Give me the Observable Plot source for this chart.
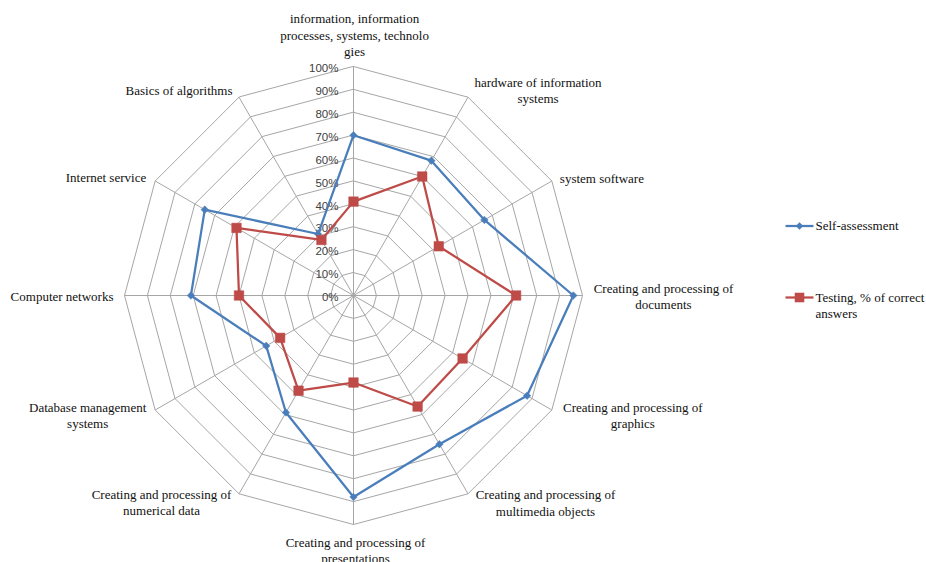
<!DOCTYPE html>
<html><head><meta charset="utf-8">
<script src="https://cdn.jsdelivr.net/npm/d3@7"></script>
<script src="https://cdn.jsdelivr.net/npm/@observablehq/plot@0.6"></script>
<style>
body{margin:0;background:#fff} #chart{width:926px;height:562px}
.lbl, .lbl text, .lbl tspan{font-family:"Liberation Serif","Times New Roman","DejaVu Serif",serif !important}
.tck, .tck text{font-family:"Liberation Sans",Arial,sans-serif !important}
</style>
</head><body><div id="chart"></div>
<script>
// ---- data ----
const categories = [
  "information, information processes, systems, technologies",
  "hardware of information systems",
  "system software",
  "Creating and processing of documents",
  "Creating and processing of graphics",
  "Creating and processing of multimedia objects",
  "Creating and processing of presentations",
  "Creating and processing of numerical data",
  "Database management systems",
  "Computer networks",
  "Internet service",
  "Basics of algorithms"
];
const categoryLabels = [
  "information, information\nprocesses, systems, technolo\ngies",
  "hardware of information\nsystems",
  "system software",
  "Creating and processing of\ndocuments",
  "Creating and processing of\ngraphics",
  "Creating and processing of\nmultimedia objects",
  "Creating and processing of\npresentations",
  "Creating and processing of\nnumerical data",
  "Database management\nsystems",
  "Computer networks",
  "Internet service",
  "Basics of algorithms"
];
const seriesNames = ["Self-assessment", "Testing, % of correct\nanswers"];
const selfAssessment = [0.70, 0.68, 0.66, 0.96, 0.875, 0.75, 0.88, 0.59, 0.44, 0.71, 0.75, 0.31];
const testing        = [0.41, 0.60, 0.43, 0.71, 0.55, 0.56, 0.38, 0.48, 0.37, 0.50, 0.59, 0.28];
const tickValues = [0, 0.1, 0.2, 0.3, 0.4, 0.5, 0.6, 0.7, 0.8, 0.9, 1.0];
const tickLabels = ["0%", "10%", "20%", "30%", "40%", "50%", "60%", "70%", "80%", "90%", "100%"];

// ---- layout / style ----
const W = 926, H = 562, CX = 353, CY = 295, R = 229;
const blue = "#4a7ebb", red = "#be4b48", grid = "#a6a6a6";
// label offsets (px) from the 100% spoke end, and anchor
const labelStyle = [
  {dx: 1, dy: -32, a: "middle"},
  {dx: 70, dy: -7.5, a: "middle"},
  {dx: 8, dy: -3.5, a: "start"},
  {dx: 81, dy: 0, a: "middle"},
  {dx: 81, dy: 5, a: "middle"},
  {dx: 77.5, dy: 8.5, a: "middle"},
  {dx: 2, dy: 25, a: "middle"},
  {dx: -77.5, dy: 8, a: "middle"},
  {dx: -67.5, dy: 5, a: "middle"},
  {dx: -11, dy: 0.5, a: "end"},
  {dx: -9, dy: -4, a: "end"},
  {dx: -6.5, dy: -7.5, a: "end"}
];

const n = categories.length;
const ang = i => i * 2 * Math.PI / n;
const px = (v, i) => v * Math.sin(ang(i));
const py = (v, i) => v * Math.cos(ang(i));
const X = p => (p - CX) / R;   // pixel -> data
const Y = p => (CY - p) / R;

const rings = [];
tickValues.filter(t => t > 0).forEach(t => categories.forEach((c, i) => rings.push({t, x: px(t, i), y: py(t, i)})));
const series = [];
[selfAssessment, testing].forEach((vals, s) => vals.forEach((v, i) => series.push({s, i, x: px(v, i), y: py(v, i)})));
const labels = categories.map((c, i) => ({
  text: categoryLabels[i], a: labelStyle[i].a,
  x: px(1, i) + labelStyle[i].dx / R,
  y: py(1, i) - labelStyle[i].dy / R
}));
const legend = [
  {s: 0, y: 225.5, text: seriesNames[0]},
  {s: 1, y: 297, text: seriesNames[1]}
];

const txt = {className: "lbl", fontSize: 13, fill: "#111", lineHeight: 1.25};
const chart = Plot.plot({
  width: W, height: H,
  marginTop: 0, marginRight: 0, marginBottom: 0, marginLeft: 0,
  x: {domain: [X(0), X(W)], range: [0, W], axis: null},
  y: {domain: [Y(H), Y(0)], range: [H, 0], axis: null},
  style: {background: "#fff"},
  marks: [
    Plot.line(rings, {x: "x", y: "y", z: "t", curve: "linear-closed", stroke: grid, strokeWidth: 1}),
    Plot.link(categories, {x1: () => 0, y1: () => 0, x2: (c, i) => px(1, i), y2: (c, i) => py(1, i), stroke: grid, strokeWidth: 1}),
    Plot.text(tickValues, {x: () => 0, y: d => d, text: (d, i) => tickLabels[i], textAnchor: "end", dx: -15, dy: 2,
      className: "tck", fontSize: 11.5, fill: "#404040"}),
    Plot.line(series.filter(d => d.s === 0), {x: "x", y: "y", curve: "linear-closed", stroke: blue, strokeWidth: 2.25}),
    Plot.dot(series.filter(d => d.s === 0), {x: "x", y: "y", symbol: "diamond2", r: 3.4, fill: blue, stroke: blue, strokeWidth: 0.5}),
    Plot.line(series.filter(d => d.s === 1), {x: "x", y: "y", curve: "linear-closed", stroke: red, strokeWidth: 2.25}),
    Plot.dot(series.filter(d => d.s === 1), {x: "x", y: "y", symbol: "square", r: 5.4, fill: red, stroke: red, strokeWidth: 0.5}),
    Plot.text(labels.filter(d => d.a === "middle"), {x: "x", y: "y", text: "text", textAnchor: "middle", ...txt}),
    Plot.text(labels.filter(d => d.a === "start"), {x: "x", y: "y", text: "text", textAnchor: "start", ...txt}),
    Plot.text(labels.filter(d => d.a === "end"), {x: "x", y: "y", text: "text", textAnchor: "end", ...txt}),
    // legend
    Plot.link(legend, {x1: () => X(785), x2: () => X(813), y1: d => Y(d.y), y2: d => Y(d.y), stroke: d => d.s ? red : blue, strokeWidth: 2.25}),
    Plot.dot(legend.filter(d => d.s === 0), {x: () => X(799), y: d => Y(d.y), symbol: "diamond2", r: 3.4, fill: blue}),
    Plot.dot(legend.filter(d => d.s === 1), {x: () => X(799), y: d => Y(d.y), symbol: "square", r: 5.4, fill: red}),
    Plot.text(legend, {x: () => X(815), y: d => Y(d.y), text: "text", textAnchor: "start", lineAnchor: "top", dy: -7.5, ...txt})
  ]
});
document.getElementById("chart").appendChild(chart);
</script>
</body></html>
